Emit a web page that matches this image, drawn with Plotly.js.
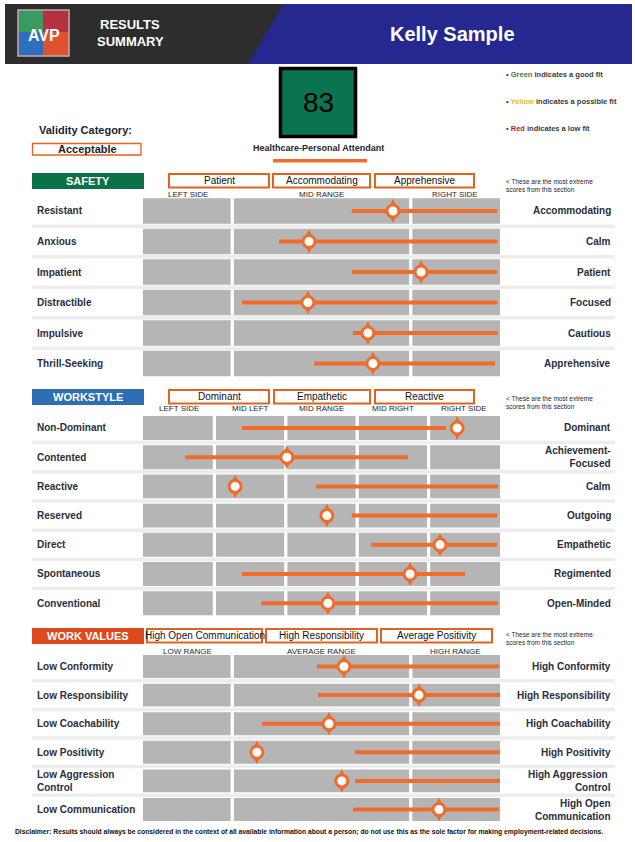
<!DOCTYPE html>
<html>
<head>
<meta charset="utf-8">
<script src="https://cdn.plot.ly/plotly-3.0.1.min.js"></script>
<style>html,body{margin:0;padding:0;background:#fff;}#chart{width:635px;height:842px;}</style>
</head>
<body>
<div id="chart"></div>
<script>
// ---------- DATA ----------
const candidateName = 'Kelly Sample';
const reportTitle = ['RESULTS', 'SUMMARY'];
const fitScore = 83;
const jobTitle = 'Healthcare-Personal Attendant';
const validityCategory = 'Acceptable';

const safetyLeft = ['Resistant', 'Anxious', 'Impatient', 'Distractible', 'Impulsive', 'Thrill-Seeking'];
const safetyRight = ['Accommodating', 'Calm', 'Patient', 'Focused', 'Cautious', 'Apprehensive'];
const safetyLow = [58.5, 38.1, 58.5, 27.7, 58.8, 47.9];
const safetyHigh = [99.2, 99.2, 99.2, 99.2, 99.4, 98.6];
const safetyScore = [70.0, 46.5, 77.9, 46.2, 63.0, 64.4];
const safetyExtremes = ['Patient', 'Accommodating', 'Apprehensive'];
const safetyRanges = ['LEFT SIDE', 'MID RANGE', 'RIGHT SIDE'];
const safetyBounds = [0, 25, 75, 100];

const workstyleLeft = ['Non-Dominant', 'Contented', 'Reactive', 'Reserved', 'Direct', 'Spontaneous', 'Conventional'];
const workstyleRight = ['Dominant', 'Achievement-<br>Focused', 'Calm', 'Outgoing', 'Empathetic', 'Regimented', 'Open-Minded'];
const workstyleLow = [27.7, 11.8, 48.5, 58.5, 63.9, 27.7, 33.1];
const workstyleHigh = [84.9, 74.2, 99.4, 99.2, 99.2, 90.2, 99.4];
const workstyleScore = [88.0, 40.3, 25.8, 51.5, 83.2, 74.8, 51.8];
const workstyleExtremes = ['Dominant', 'Empathetic', 'Reactive'];
const workstyleRanges = ['LEFT SIDE', 'MID LEFT', 'MID RANGE', 'MID RIGHT', 'RIGHT SIDE'];
const workstyleBounds = [0, 20, 40, 60, 80, 100];

const valuesLeft = ['Low Conformity', 'Low Responsibility', 'Low Coachability', 'Low Positivity', 'Low Aggression<br>Control', 'Low Communication'];
const valuesRight = ['High Conformity', 'High Responsibility', 'High Coachability', 'High Positivity', 'High Aggression\u00a0<br>Control', 'High Open<br>Communication'];
const valuesLow = [48.7, 49.0, 33.3, 59.4, 59.4, 58.8];
const valuesHigh = [99.7, 100, 100, 100, 100, 99.7];
const valuesScore = [56.3, 77.3, 52.1, 31.9, 55.7, 82.9];
const valuesExtremes = ['High Open Communication', 'High Responsibility', 'Average Positivity'];
const valuesRanges = ['LOW RANGE', 'AVERAGE RANGE', 'HIGH RANGE'];
const valuesBounds = [0, 25, 75, 101];

const legendLines = [
  ['Green', '#3b7d4b', ' indicates a good fit'],
  ['Yellow', '#d9c224', ' indicates a possible fit'],
  ['Red', '#cc1414', ' indicates a low fit']
];
const extremeNote = '< These are the most extreme<br>scores from this section';
const disclaimer = 'Disclaimer: Results should always be considered in the context of all available information about a person; do not use this as the sole factor for making employment-related decisions.';

// ---------- LAYOUT HELPERS ----------
const W = 635, H = 842;
const P = px => px / W;
const Q = py => 1 - py / H;
const FONT = 'Liberation Sans, Arial, sans-serif';
const ORANGE = '#ef6c2c';
const BOX_ORANGE = '#e0631f';
const TXT = '#2a2e3c';

const shapes = [];
const annotations = [];
const traces = [];

function txt(x, y, text, size, opts) {
  annotations.push(Object.assign({
    xref: 'paper', yref: 'paper', x: x, y: y, text: text, showarrow: false,
    xanchor: 'center', yanchor: 'middle',
    font: {family: FONT, size: size, color: TXT}
  }, opts || {}));
}
function rectPx(x0, y0, x1, y1, fill, line, extra) {
  shapes.push(Object.assign({
    type: 'rect', xref: 'paper', yref: 'paper',
    x0: P(x0), x1: P(x1), y0: Q(y1), y1: Q(y0),
    fillcolor: fill, line: line || {width: 0}
  }, extra || {}));
}

// ---------- HEADER ----------
rectPx(5, 4, 632, 64, '#2d2d2d');
shapes.push({type: 'path', xref: 'paper', yref: 'paper',
  path: `M${P(283)},${Q(4)} L${P(632)},${Q(4)} L${P(632)},${Q(64)} L${P(248)},${Q(64)} Z`,
  fillcolor: '#25288e', line: {width: 0}});
// logo
rectPx(18, 10, 43, 32, '#3a9a62');
rectPx(43, 10, 69, 32, '#b4323f');
rectPx(18, 32, 43, 56, '#2c6fbf');
rectPx(43, 32, 69, 56, '#e0522f');
rectPx(18, 10, 69, 56, 'rgba(0,0,0,0)', {color: '#c9a9a9', width: 1.5});
txt(P(44), Q(35), '<b>AVP</b>', 16, {font: {family: FONT, size: 16, color: '#ffffff'}});
txt(P(130), Q(25), '<b>' + reportTitle[0] + '</b>', 13, {font: {family: FONT, size: 13, color: '#ffffff'}});
txt(P(130), Q(42), '<b>' + reportTitle[1] + '</b>', 13, {font: {family: FONT, size: 13, color: '#ffffff'}});
txt(P(452), Q(34), '<b>' + candidateName + '</b>', 20, {font: {family: FONT, size: 20, color: '#ffffff'}});

// score box
rectPx(280.5, 68.5, 355.5, 136.5, '#0a734f', {color: '#000000', width: 3.5});
txt(P(318), Q(103), String(fitScore), 28, {font: {family: FONT, size: 28, color: '#000000'}});
txt(P(318), Q(148), '<b>' + jobTitle + '</b>', 9, {font: {family: FONT, size: 9, color: '#1e1e28'}});
rectPx(273, 159, 367, 162.5, ORANGE);

// validity
txt(P(85), Q(130), '<b>Validity Category:</b>', 11, {font: {family: FONT, size: 11, color: '#1e1e28'}});
rectPx(32.5, 143.5, 141, 155, '#ffffff', {color: BOX_ORANGE, width: 1.3});
txt(P(87), Q(149.5), '<b>' + validityCategory + '</b>', 11, {font: {family: FONT, size: 11, color: '#1e1e28'}});

// legend notes
legendLines.forEach((l, i) => {
  txt(P(504), Q(75 + i * 26.5), `<b>• <span style="color:${l[1]}">${l[0]}</span>${l[2]}</b>`, 7.5,
    {xanchor: 'left', font: {family: FONT, size: 7.5, color: '#3a3a3a'}});
});

// ---------- SECTIONS ----------
const sections = [
  {name: 'SAFETY', color: '#0b7149', ax: 'y', key: 'yaxis', top: 195.75, bottom: 378.75, half: 0.42,
   left: safetyLeft, right: safetyRight, low: safetyLow, high: safetyHigh, score: safetyScore,
   extremes: safetyExtremes, ranges: safetyRanges, bounds: safetyBounds,
   headY: [173, 189], boxes: [[168, 270], [272, 371], [374, 475]], rangeY: 194, noteY: 185.5},
  {name: 'WORKSTYLE', color: '#2e6eb5', ax: 'y2', key: 'yaxis2', top: 413.4, bottom: 617.8, half: 0.41,
   left: workstyleLeft, right: workstyleRight, low: workstyleLow, high: workstyleHigh, score: workstyleScore,
   extremes: workstyleExtremes, ranges: workstyleRanges, bounds: workstyleBounds,
   headY: [389, 405], boxes: [[168, 270], [273, 371], [374, 475]], rangeY: 409, noteY: 402.5},
  {name: 'WORK VALUES', color: '#dc4a1d', ax: 'y3', key: 'yaxis3', top: 652.2, bottom: 823.8, half: 0.40,
   left: valuesLeft, right: valuesRight, low: valuesLow, high: valuesHigh, score: valuesScore,
   extremes: valuesExtremes, ranges: valuesRanges, bounds: valuesBounds,
   headY: [628, 644], boxes: [[146, 263], [265, 378], [380, 493]], rangeY: 651, noteY: 638.5}
];

const layout = {
  width: W, height: H, margin: {l: 0, r: 0, t: 0, b: 0},
  paper_bgcolor: '#ffffff', plot_bgcolor: 'rgba(0,0,0,0)', showlegend: false,
  xaxis: {domain: [P(143), P(500)], range: [0, 100], visible: false, fixedrange: true},
  shapes: shapes, annotations: annotations
};

sections.forEach(s => {
  const n = s.left.length;
  layout[s.key] = {domain: [Q(s.bottom), Q(s.top)], range: [n - 0.5, -0.5], visible: false, anchor: 'x', fixedrange: true};
  const xr = 'x', yr = s.ax;

  // section header
  rectPx(32, s.headY[0], 144, s.headY[1], s.color);
  txt(P(88), Q((s.headY[0] + s.headY[1]) / 2), '<b>' + s.name + '</b>', 11, {font: {family: FONT, size: 11, color: '#ffffff'}});
  // extreme boxes
  s.boxes.forEach((b, i) => {
    rectPx(b[0] + 1, s.headY[0] + 1, b[1] - 1, s.headY[1] - 1.5, '#ffffff', {color: BOX_ORANGE, width: 2});
    txt(P((b[0] + b[1]) / 2), Q((s.headY[0] + s.headY[1]) / 2 - 0.5), s.extremes[i], 10, {font: {family: FONT, size: 10, color: '#111111'}});
  });
  txt(P(504), Q(s.noteY), extremeNote, 6.5, {xanchor: 'left', align: 'left', font: {family: FONT, size: 6.5, color: '#1e1e28'}});
  // range sub-labels centered on panels
  s.ranges.forEach((r, i) => {
    const c = (s.bounds[i] + Math.min(s.bounds[i + 1], 100)) / 2;
    annotations.push({xref: 'x', yref: 'paper', x: c, y: Q(s.rangeY), text: r, showarrow: false,
      xanchor: 'center', yanchor: 'middle', font: {family: FONT, size: 8, color: '#1e1e28'}});
  });

  for (let i = 0; i < n; i++) {
    // gray panels
    for (let k = 0; k < s.bounds.length - 1; k++) {
      const a = s.bounds[k] + (k === 0 ? 0 : 0.45);
      const b = s.bounds[k + 1] - (k === s.bounds.length - 2 ? 0 : 0.45);
      shapes.push({type: 'rect', xref: xr, yref: yr, x0: a, x1: b, y0: i - s.half, y1: i + s.half,
        fillcolor: '#b5b5b5', line: {width: 0}, layer: 'below'});
    }
    // separators
    if (i < n - 1) {
      shapes.push({type: 'line', xref: 'paper', yref: yr, x0: P(32), x1: P(615), y0: i + 0.5, y1: i + 0.5,
        line: {color: '#eceeec', width: 3.5}, layer: 'below'});
    }
    // labels
    annotations.push({xref: 'paper', yref: yr, x: P(35), y: i, text: '<b>' + s.left[i] + '</b>', showarrow: false,
      xanchor: 'left', yanchor: 'middle', align: 'left', font: {family: FONT, size: 10, color: TXT}});
    annotations.push({xref: 'paper', yref: yr, x: P(612.5), y: i, text: '<b>' + s.right[i] + '</b>', showarrow: false,
      xanchor: 'right', yanchor: 'middle', align: 'right', font: {family: FONT, size: 10, color: TXT}});
  }

  // range lines
  const lx = [], ly = [];
  for (let i = 0; i < n; i++) { lx.push(s.low[i], s.high[i], null); ly.push(i, i, null); }
  traces.push({type: 'scatter', mode: 'lines', x: lx, y: ly, xaxis: 'x', yaxis: yr,
    line: {color: ORANGE, width: 4}, hoverinfo: 'skip', connectgaps: false});
  const idx = s.score.map((_, i) => i);
  traces.push({type: 'scatter', mode: 'markers', x: s.score, y: idx, xaxis: 'x', yaxis: yr,
    marker: {symbol: 'diamond-tall', size: 17, color: ORANGE, line: {width: 0}}, hoverinfo: 'skip'});
  traces.push({type: 'scatter', mode: 'markers', x: s.score, y: idx, xaxis: 'x', yaxis: yr,
    marker: {symbol: 'circle', size: 12, color: '#ffffff', line: {color: ORANGE, width: 3}}, hoverinfo: 'skip'});
});

// disclaimer
txt(P(309), Q(832), '<b>' + disclaimer + '</b>', 6.75, {font: {family: FONT, size: 6.75, color: '#111111'}});

Plotly.newPlot('chart', traces, layout, {staticPlot: true, displayModeBar: false});
</script>
</body>
</html>
